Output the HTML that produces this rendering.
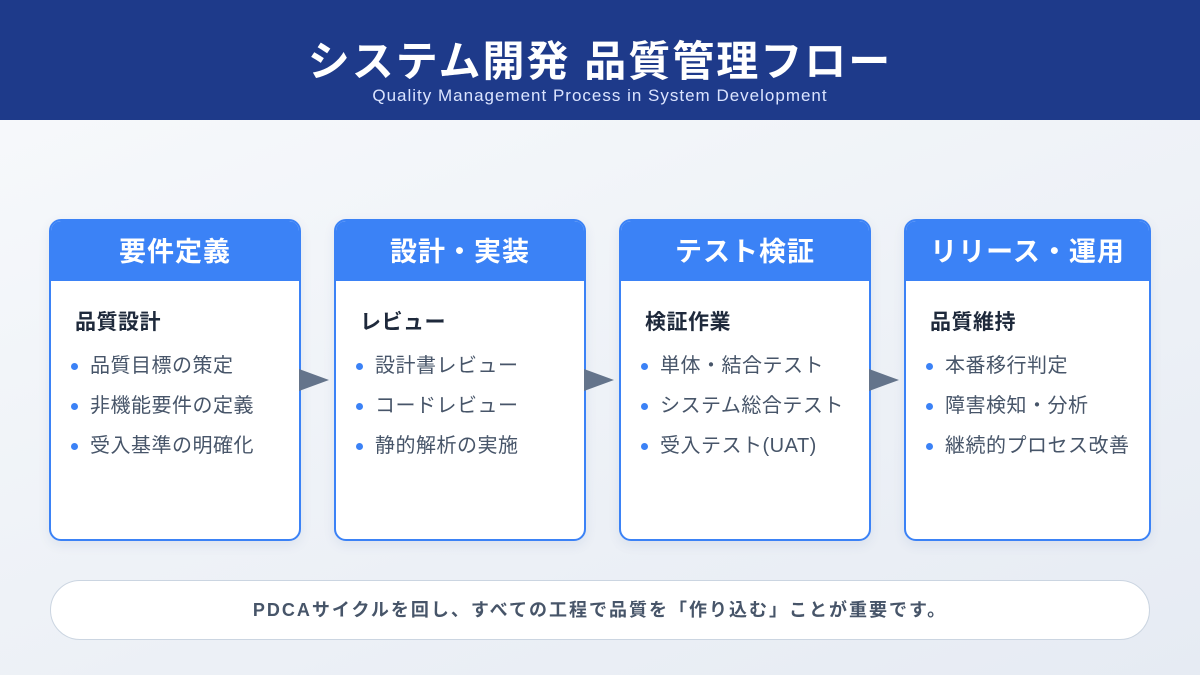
<!DOCTYPE html>
<html><head><meta charset="utf-8"><style>
*{margin:0;padding:0;box-sizing:border-box}
body{width:1200px;height:675px;overflow:hidden;font-family:"Liberation Sans","Noto Sans CJK JP",sans-serif;background:linear-gradient(160deg,#f8fafc,#e6ebf3);position:relative}
.hd{position:absolute;left:0;top:0;width:1200px;height:120px;background:#1e3a8a;color:#fff;text-align:center}
.hd h1{position:absolute;top:36px;width:100%;font-size:42px;font-weight:bold;line-height:52px;letter-spacing:2px}
.hd p{position:absolute;top:86px;width:100%;font-size:17px;color:#dbe4ff;letter-spacing:1px}
.card{position:absolute;top:219px;width:252px;height:322px;background:#fff;border:2px solid #3b82f6;border-radius:12px;overflow:hidden;box-shadow:0 4px 12px rgba(30,58,138,.08)}
.card .t{height:60px;background:#3b82f6;color:#fff;font-size:27px;font-weight:bold;text-align:center;line-height:62px;letter-spacing:1px}
.card h3{margin:29px 0 0 24px;font-size:21px;color:#1e293b;font-weight:bold;line-height:26px;letter-spacing:0.5px}
.card ul{list-style:none;margin:10px 0 0 20px}
.card li{font-size:20px;color:#475569;line-height:40px;position:relative;padding-left:19px;letter-spacing:0.5px;white-space:nowrap}
.card li:before{content:"";position:absolute;left:0;top:17px;width:7px;height:7px;border-radius:50%;background:#3b82f6}
.ar{position:absolute;top:369px;width:0;height:0;border-top:11px solid transparent;border-bottom:11px solid transparent;border-left:30px solid #64748b}
.ft{position:absolute;left:50px;top:580px;width:1100px;height:60px;background:#fff;border:1px solid #cbd5e1;border-radius:30px;text-align:center;line-height:58px;font-size:18px;font-weight:bold;color:#475569;letter-spacing:2px}
</style></head><body>
<div class="hd"><h1>システム開発 品質管理フロー</h1><p>Quality Management Process in System Development</p></div>
<div class="card" style="left:49px"><div class="t">要件定義</div><h3>品質設計</h3><ul><li>品質目標の策定</li><li>非機能要件の定義</li><li>受入基準の明確化</li></ul></div>
<div class="card" style="left:334px"><div class="t">設計・実装</div><h3>レビュー</h3><ul><li>設計書レビュー</li><li>コードレビュー</li><li>静的解析の実施</li></ul></div>
<div class="card" style="left:619px"><div class="t">テスト検証</div><h3>検証作業</h3><ul><li>単体・結合テスト</li><li>システム総合テスト</li><li>受入テスト(UAT)</li></ul></div>
<div class="card" style="left:904px;width:247px"><div class="t">リリース・運用</div><h3>品質維持</h3><ul><li>本番移行判定</li><li>障害検知・分析</li><li>継続的プロセス改善</li></ul></div>
<div class="ar" style="left:299px"></div>
<div class="ar" style="left:584px"></div>
<div class="ar" style="left:869px"></div>
<div class="ft">PDCAサイクルを回し、すべての工程で品質を「作り込む」ことが重要です。</div>
</body></html>
